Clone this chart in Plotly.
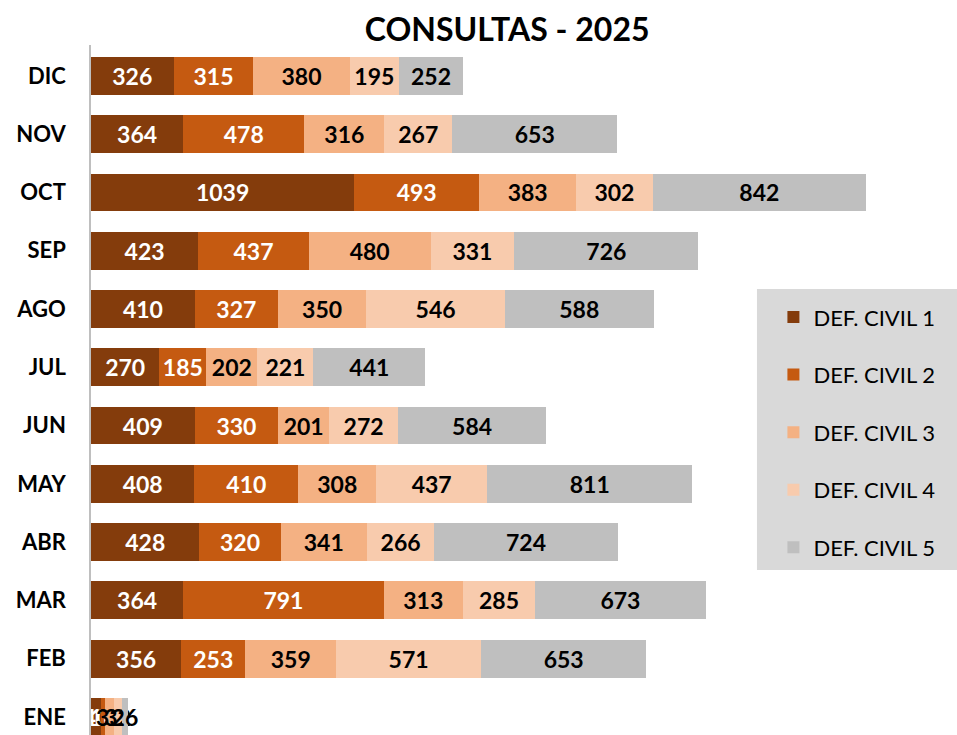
import plotly.graph_objects as go

# Monthly consultations by civil defence office
months = ["ENE", "FEB", "MAR", "ABR", "MAY", "JUN", "JUL", "AGO", "SEP", "OCT", "NOV", "DIC"]
civil_1 = [40, 356, 364, 428, 408, 409, 270, 410, 423, 1039, 364, 326]
civil_2 = [16, 253, 791, 320, 410, 330, 185, 327, 437, 493, 478, 315]
civil_3 = [33, 359, 313, 341, 308, 201, 202, 350, 480, 383, 316, 380]
civil_4 = [32, 571, 285, 266, 437, 272, 221, 546, 331, 302, 267, 195]
civil_5 = [26, 653, 673, 724, 811, 584, 441, 588, 726, 842, 653, 252]

series_names = ["DEF. CIVIL 1", "DEF. CIVIL 2", "DEF. CIVIL 3", "DEF. CIVIL 4", "DEF. CIVIL 5"]
series_values = [civil_1, civil_2, civil_3, civil_4, civil_5]
colors = ["#843C0C", "#C55A11", "#F4B183", "#F8CBAD", "#BFBFBF"]
text_colors = ["white", "white", "black", "black", "black"]

FONT = "Lato, 'Open Sans', sans-serif"
ypos = list(range(len(months)))

fig = go.Figure()
for i, (name, vals) in enumerate(zip(series_names, series_values)):
    fig.add_trace(go.Bar(
        y=ypos, x=vals, name=name, orientation="h",
        marker=dict(color=colors[i], line=dict(width=0)),
        text=[str(v) for v in vals], textposition="inside",
        insidetextanchor="middle", constraintext="none",
        textfont=dict(family=FONT, size=23, color=text_colors[i], weight="bold"),
        legendgroup=f"g{i}",
        hoverinfo="x+name",
    ))

# grey panel behind the legend
fig.add_shape(type="rect", xref="paper", yref="paper",
              x0=0.769, x1=1.0, y0=0.2391, y1=0.6464,
              fillcolor="#D9D9D9", line=dict(width=0), layer="below")

fig.update_layout(
    width=957, height=735,
    barmode="stack", bargap=0.35,
    plot_bgcolor="white", paper_bgcolor="white",
    margin=dict(l=91, r=0, t=45, b=0),
    title=dict(text="<b>CONSULTAS - 2025</b>", x=0.53, xanchor="center",
               y=0.96, yanchor="middle",
               font=dict(family=FONT, size=32, color="black")),
    xaxis=dict(range=[0, 3418], visible=False, fixedrange=True),
    yaxis=dict(range=[-0.31, 11.53], tickvals=ypos, ticktext=months,
               showgrid=False, zeroline=False, showline=True,
               linecolor="#BFBFBF", linewidth=1.5, ticks="",
               ticklabelstandoff=19,
               tickfont=dict(family=FONT, size=22, color="black", weight="bold")),
    legend=dict(x=0.788, xanchor="left", y=0.636, yanchor="top",
                bgcolor="rgba(0,0,0,0)", traceorder="grouped", tracegroupgap=26,
                font=dict(family=FONT, size=22, color="black"),
                itemwidth=30, borderwidth=0),
    showlegend=True,
)

fig.write_html("out.html")
